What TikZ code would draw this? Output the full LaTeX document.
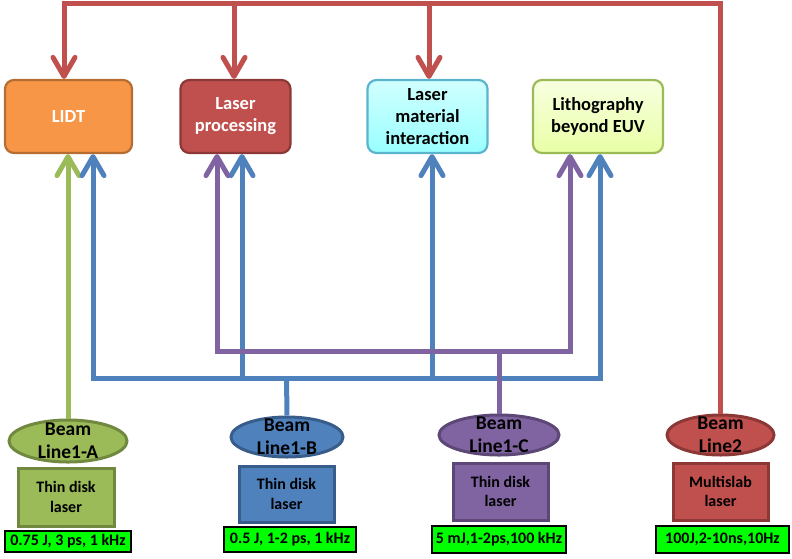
\documentclass[tikz,border=0pt]{standalone}
\usepackage{fontspec}
\setmainfont{Carlito}
\usepackage{tikz}
\usetikzlibrary{arrows.meta, shapes.geometric}
\definecolor{bred}{HTML}{C0504D}
\definecolor{bredd}{HTML}{8C3836}
\definecolor{bblue}{HTML}{4F81BD}
\definecolor{bblued}{HTML}{385D8A}
\definecolor{bpurp}{HTML}{8064A2}
\definecolor{bpurpd}{HTML}{5C4776}
\definecolor{bolive}{HTML}{9BBB59}
\definecolor{bolived}{HTML}{71893F}
\definecolor{borange}{HTML}{F79646}
\definecolor{borangd}{HTML}{B66D31}
\definecolor{bcyand}{HTML}{5BB4CE}
\definecolor{specgreen}{HTML}{00FF00}
\tikzset{>={Straight Barb[length=19pt,width=22pt,round]}}
\tikzset{goal/.style={draw, rounded corners=9pt, line width=2.2pt, align=center,
    inner sep=0pt, font=\fontsize{18.5}{22}\selectfont\bfseries}}
\tikzset{beam/.style={ellipse, draw, line width=3pt, inner sep=0pt}}
\tikzset{beamtext/.style={align=center, inner sep=0pt,
    font=\fontsize{19.5}{23}\selectfont\bfseries}}
\tikzset{src/.style={draw, line width=3pt, align=center, inner sep=0pt,
    font=\fontsize{16}{19.5}\selectfont\bfseries}}
\tikzset{spec/.style={draw=black, fill=specgreen, line width=1.4pt, inner sep=0pt,
    font=\fontsize{16}{18}\selectfont\bfseries}}
\tikzset{wire/.style={line width=5pt}}

\begin{document}
\begin{tikzpicture}[x=1pt, y=-1pt]
  \useasboundingbox (0,0) rectangle (792,558);
  % applications
  \node[goal, fill=borange, draw=borangd, text=white, minimum width=127, minimum height=73]
    (lidt) at (68.5,116.5) {LIDT};
  \node[goal, fill=bred, draw=bredd, text=white, minimum width=110, minimum height=73]
    (proc) at (235.5,116.5) {Laser\\processing};
  \node[goal, top color=cyan!18, bottom color=cyan!40!white, draw=bcyand,
    minimum width=120, minimum height=73] (inter) at (427.5,116.5) {Laser\\material\\interaction};
  \node[goal, top color=lime!12!white, bottom color=lime!35!white, draw=bolive,
    minimum width=130, minimum height=73] (litho) at (598,116.5) {Lithography\\beyond EUV};
  % beam lines
  \node[beam, fill=bolive, draw=bolived, minimum width=118, minimum height=42] (ellA) at (68,441) {};
  \node[beam, fill=bblue, draw=bblued, minimum width=112, minimum height=40] (ellB) at (287,437) {};
  \node[beam, fill=bpurp, draw=bpurpd, minimum width=120, minimum height=40] (ellC) at (499,435) {};
  \node[beam, fill=bred, draw=bredd, minimum width=107, minimum height=40] (ell2) at (720.5,435) {};
  \node[beamtext] at (ellA) {Beam\\Line1-A};
  \node[beamtext] at (ellB) {Beam\\Line1-B};
  \node[beamtext] at (ellC) {Beam\\Line1-C};
  \node[beamtext] at (ell2) {Beam\\Line2};
  % lasers
  \node[src, fill=bolive, draw=bolived, minimum width=96, minimum height=58] (srcA) at (66,497) {Thin disk\\laser};
  \node[src, fill=bblue, draw=bblued, minimum width=95, minimum height=56] (srcB) at (286.5,494) {Thin disk\\laser};
  \node[src, fill=bpurp, draw=bpurpd, minimum width=95, minimum height=57] (srcC) at (500.5,491.5) {Thin disk\\laser};
  \node[src, fill=bred, draw=bredd, minimum width=95, minimum height=57] (src2) at (720.5,491.5) {Multislab\\laser};
  \node[spec, minimum width=126, minimum height=21] (labA) at (68,541.5) {0.75 J, 3 ps, 1 kHz};
  \node[spec, minimum width=132, minimum height=25] (labB) at (290,539.5) {0.5 J, 1-2 ps, 1 kHz};
  \node[spec, minimum width=134, minimum height=27] (labC) at (499,539.5) {5 mJ,1-2ps,100 kHz};
  \node[spec, minimum width=133, minimum height=27] (lab2) at (722.5,539.5) {100J,2-10ns,10Hz};
  % arrow ends
  \coordinate (lidtB) at ([xshift=24.5]lidt.south);
  \coordinate (procP) at ([xshift=-18.5]proc.south);
  \coordinate (procB) at ([xshift=6.5]proc.south);
  \coordinate (interB) at ([xshift=4.5]inter.south);
  \coordinate (lithoP) at ([xshift=-28]litho.south);
  \coordinate (lithoB) at ([xshift=2]litho.south);
  \coordinate (rtop) at (64,3);
  \coordinate (bbus) at (286.5,378);
  \coordinate (pbus) at (499,351);
  % Beam Line2
  \draw[wire, bred, ->] (ell2.north) |- (rtop) -- (rtop |- lidt.north);
  \draw[wire, bred, ->] ([xshift=-1.5]rtop -| proc.north) -- ([xshift=-1.5]proc.north);
  \draw[wire, bred, ->] ([xshift=1.5]rtop -| inter.north) -- ([xshift=1.5]inter.north);
  % Beam Line1-A
  \draw[wire, bolive, ->] (ellA.north) -- (ellA.north |- lidt.south);
  % Beam Line1-B
  \draw[wire, bblue] (ellB.north) -- (bbus);
  \draw[wire, bblue, ->] (bbus) -| (lidtB);
  \draw[wire, bblue, ->] (bbus) -| (lithoB);
  \draw[wire, bblue, ->] (bbus -| procB) -- (procB);
  \draw[wire, bblue, ->] (bbus -| interB) -- (interB);
  % Beam Line1-C
  \draw[wire, bpurp] (ellC.north) -- (pbus);
  \draw[wire, bpurp, ->] (pbus) -| (procP);
  \draw[wire, bpurp, ->] (pbus) -| (lithoP);
\end{tikzpicture}
\end{document}
